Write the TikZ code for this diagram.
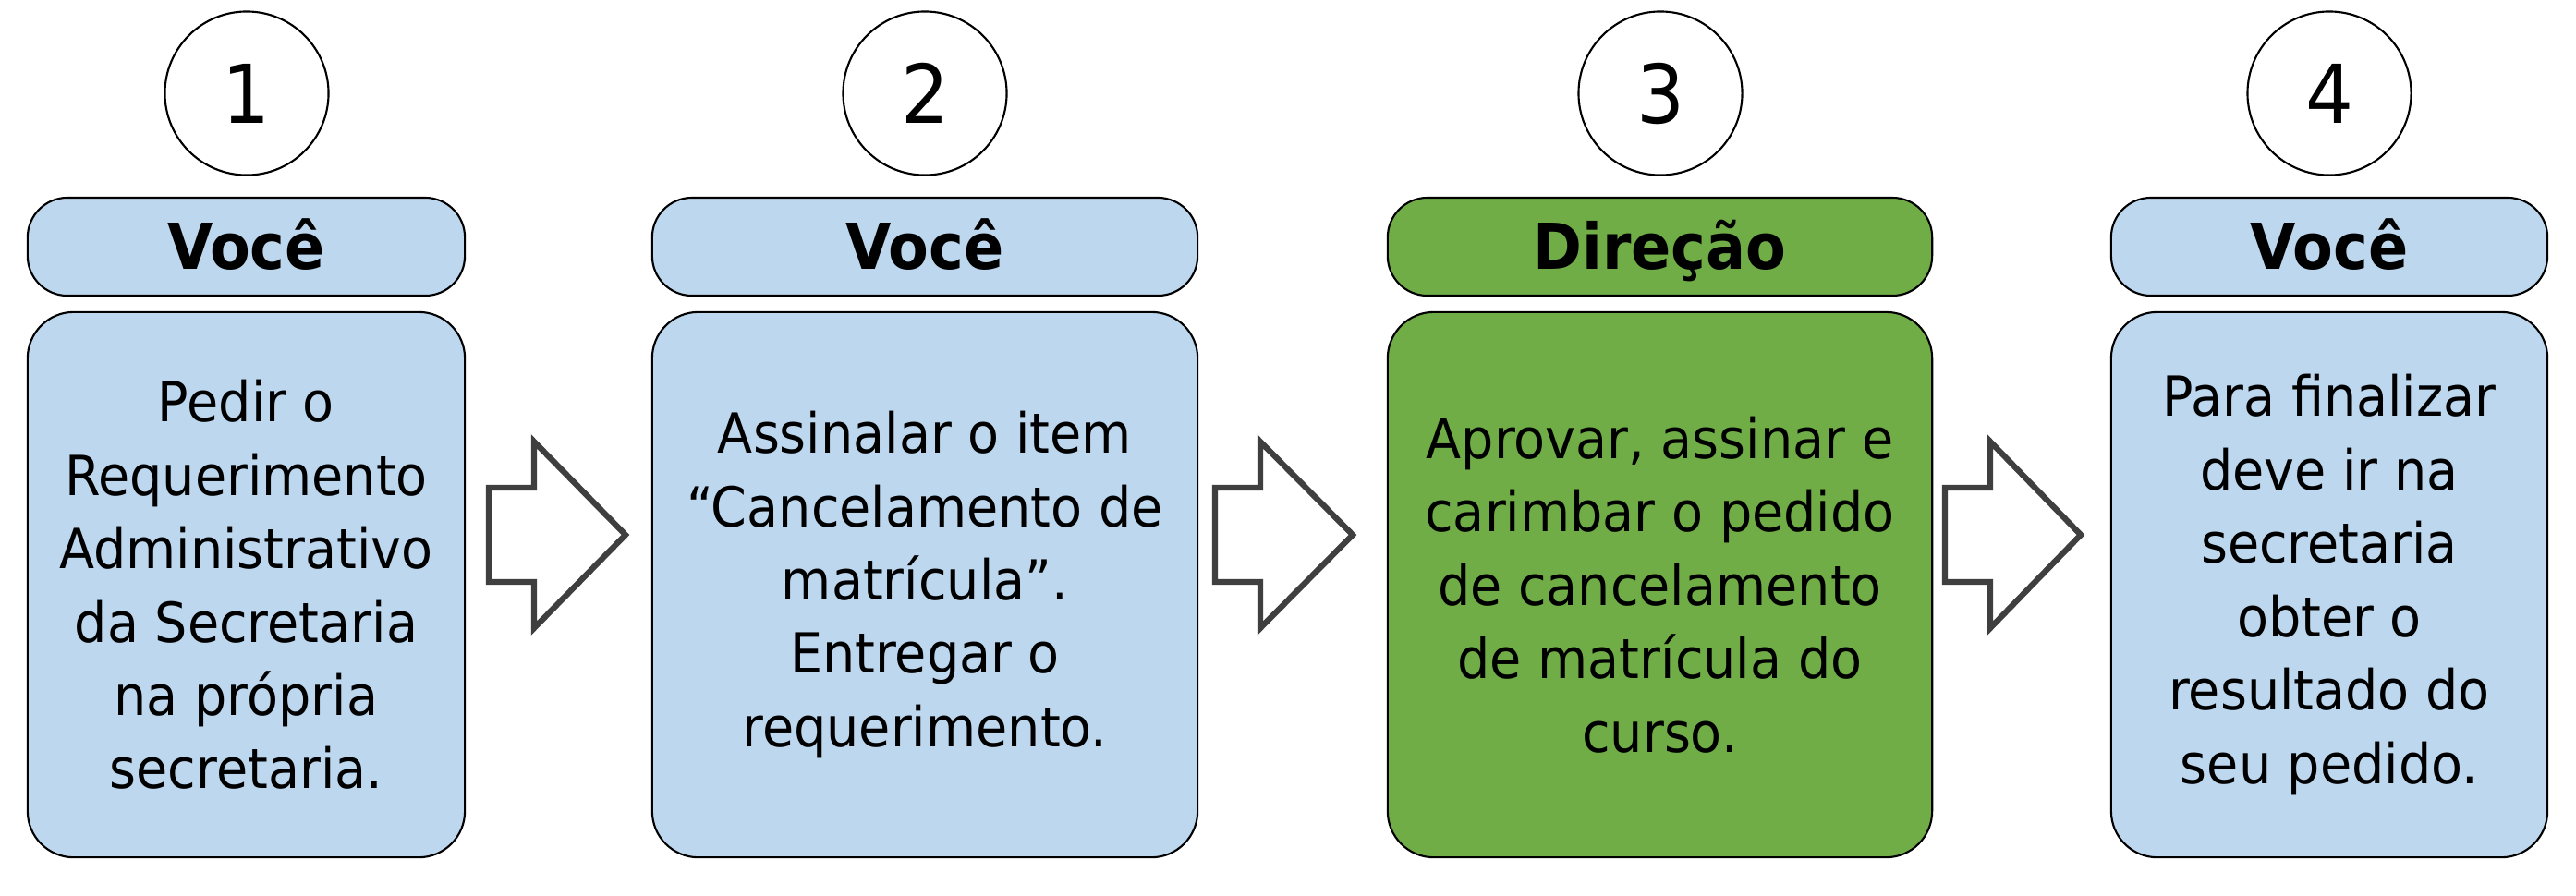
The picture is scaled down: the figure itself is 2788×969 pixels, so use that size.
\documentclass[tikz,border=0pt]{standalone}
\usepackage{fontspec}
\setmainfont{DejaVu Sans}[FakeStretch=0.93]
\definecolor{lblue}{HTML}{BDD7EE}
\definecolor{lgreen}{HTML}{70AD47}
\definecolor{agray}{HTML}{3F3F3F}
\tikzset{
  numcirc/.style={circle, draw=black, line width=0.6pt, fill=white, minimum size=1.77cm, inner sep=0pt, font=\fontsize{25}{30}\selectfont},
  headbox/.style={draw=black, line width=0.6pt, rounded corners=0.43cm, minimum height=1.06cm, inner sep=0pt, text height=14.2pt, text depth=0pt, font=\bfseries\fontsize{19.5}{23}\selectfont},
  bodybox/.style={draw=black, line width=0.6pt, rounded corners=0.5cm, minimum height=5.9cm, inner sep=0pt, align=center, font=\fontsize{17}{22.6}\selectfont},
  blockarrow/.style={draw=agray, line width=1.8pt, fill=white, line join=miter}
}
\begin{document}
\begin{tikzpicture}[x=0.01cm,y=-0.01cm]
\useasboundingbox (0,0) rectangle (2788,969);
% column 1
\node[numcirc] (c1) at (267,101) {1};
\node[headbox, fill=lblue, minimum width=4.73cm] (h1) at (266.5,267) {Você};
\node[bodybox, fill=lblue, minimum width=4.73cm] (b1) at (266.5,633) {Pedir o\\Requerimento\\Administrativo\\da Secretaria\\na própria\\secretaria.};
% column 2
\node[numcirc] (c2) at (1001,101) {2};
\node[headbox, fill=lblue, minimum width=5.9cm] (h2) at (1001,267) {Você};
\node[bodybox, fill=lblue, minimum width=5.9cm] (b2) at (1001,633) {Assinalar o item\\“Cancelamento de\\matrícula”.\\Entregar o\\requerimento.};
% column 3
\node[numcirc] (c3) at (1797,101) {3};
\node[headbox, fill=lgreen, minimum width=5.89cm] (h3) at (1796.5,267) {Direção};
\node[bodybox, fill=lgreen, minimum width=5.89cm] (b3) at (1796.5,633) {Aprovar, assinar e\\carimbar o pedido\\de cancelamento\\de matrícula do\\curso.};
% column 4
\node[numcirc] (c4) at (2521,101) {4};
\node[headbox, fill=lblue, minimum width=4.72cm] (h4) at (2521,267) {Você};
\node[bodybox, fill=lblue, minimum width=4.72cm] (b4) at (2521,633) {Para finalizar\\deve ir na\\secretaria\\obter o\\resultado do\\seu pedido.};
% block arrows
\draw[blockarrow] (529,528) -- (578,528) -- (578,478) -- (677,579) -- (578,680) -- (578,630) -- (529,630) -- cycle;
\draw[blockarrow] (1315,528) -- (1364,528) -- (1364,478) -- (1464,579) -- (1364,680) -- (1364,630) -- (1315,630) -- cycle;
\draw[blockarrow] (2105,528) -- (2154,528) -- (2154,478) -- (2252,579) -- (2154,680) -- (2154,630) -- (2105,630) -- cycle;
\end{tikzpicture}
\end{document}
